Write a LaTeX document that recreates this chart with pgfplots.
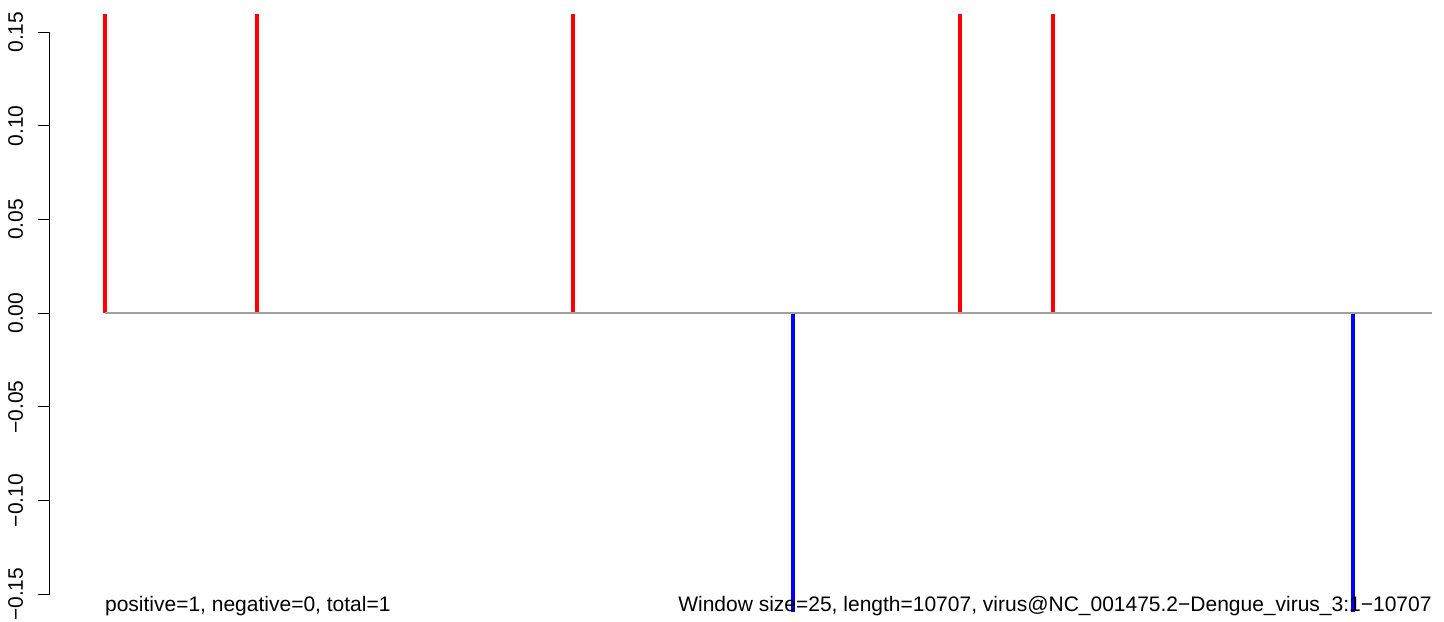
\documentclass[border=0pt]{standalone}
\usepackage{pgfplots}
\pgfplotsset{compat=1.18}
\usepackage{fontspec}
\setmainfont{Liberation Sans}
\begin{document}
\fontsize{10.5}{12}\selectfont
\begin{tikzpicture}
\begin{axis}[
  at={(25pt,4.75pt)}, anchor=south west,
  scale only axis, width=697pt, height=298.25pt,
  xmin=-440.2, xmax=10803.6, ymin=-0.1592, ymax=0.1592,
  axis x line=none,
  axis y line*=left,
  y axis line style={draw=none},
  ytick={-0.15,-0.1,-0.05,0,0.05,0.1,0.15},
  yticklabels={−0.15,−0.10,−0.05,0.00,0.05,0.10,0.15},
  tick align=outside, major tick length=6pt,
  ytick style={black, line width=0.5pt},
  yticklabel style={rotate=90, anchor=base, inner sep=0pt, font=\fontsize{10.5}{12}\selectfont},
  yticklabel shift=7.5pt,
  clip mode=individual,
]
\addplot[red, line width=2pt, ycomb] coordinates {(1,1) (1227,1) (3778,1) (6900,1) (7650,1)};
\addplot[blue, line width=2pt, ycomb] coordinates {(5553,-1) (10070,-1)};
\addplot[color={rgb,255:red,160;green,160;blue,160}, line width=1pt] coordinates {(1,0) (10707,0)};
\draw[black, line width=0.5pt] (axis cs:-440.2,-0.15) -- (axis cs:-440.2,0.15);
\node[anchor=base west, inner sep=0pt] at (axis cs:1,-0.1592) {positive=1, negative=0, total=1};
\node[anchor=base east, inner sep=0pt] at (axis cs:10707,-0.1592) {Window size=25, length=10707, virus@NC\_001475.2−Dengue\_virus\_3:1−10707};
\end{axis}
\pgfresetboundingbox
\path[use as bounding box] (0,0) rectangle (722pt,310.5pt);
\end{tikzpicture}
\end{document}
